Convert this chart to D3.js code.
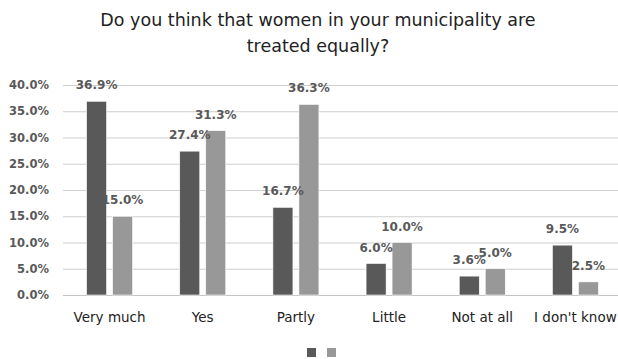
<meta charset="utf-8">
<style>
    body{ margin:0; background:#fff; }
    svg text{ font-family:"DejaVu Sans", Verdana, sans-serif; }
</style>
<script src="https://d3js.org/d3.v7.min.js"></script>
<body>
<div id="chart"></div>
<script>
    // values
    categories = ["Very much", "Yes", "Partly", "Little", "Not at all", "I don't know"]
    seriesA = [36.9, 27.4, 16.7, 6.0, 3.6, 9.5]
    seriesB = [15.0, 31.3, 36.3, 10.0, 5.0, 2.5]
    yTicks = [0, 5, 10, 15, 20, 25, 30, 35, 40]
    colors = ["#595959", "#989898"]

    width = 618
    height = 359

    svg = d3.select("#chart")
            .append("svg")
            .attr("width", width)
            .attr("height", height);

    // title
    svg.append("text")
       .attr("x", 318).attr("y", 26)
       .attr("text-anchor", "middle")
       .attr("font-size", 17.5).attr("fill", "#222")
       .text("Do you think that women in your municipality are");
    svg.append("text")
       .attr("x", 318).attr("y", 52)
       .attr("text-anchor", "middle")
       .attr("font-size", 17.5).attr("fill", "#222")
       .text("treated equally?");

    y = d3.scaleLinear().domain([0, 40]).range([295, 85]);
    x0 = d3.scaleBand().domain(categories).range([63, 622]).paddingInner(0.506).paddingOuter(0.253);
    x1 = d3.scaleBand().domain([0, 1]).range([0, x0.bandwidth()]).paddingInner(0.23);

    // gridlines
    svg.append("g")
       .selectAll("line")
       .data(yTicks)
       .join("line")
       .attr("x1", 63).attr("x2", width)
       .attr("y1", function(d){ return y(d) + 0.5 })
       .attr("y2", function(d){ return y(d) + 0.5 })
       .attr("stroke", function(d){ return d == 0 ? "#c4c4c4" : "#cfcfcf" })
       .attr("stroke-width", 1);

    // y labels
    svg.append("g")
       .selectAll("text")
       .data(yTicks)
       .join("text")
       .attr("x", 49)
       .attr("y", function(d){ return y(d) + 4 })
       .attr("text-anchor", "end")
       .attr("font-size", 11.5).attr("font-weight", "bold").attr("fill", "#595959")
       .text(function(d){ return d.toFixed(1) + "%" });

    // bars
    data = categories.map(function(c, i){ return {cat: c, vals: [seriesA[i], seriesB[i]]} });
    groups = svg.append("g")
       .selectAll("g")
       .data(data)
       .join("g")
       .attr("transform", function(d){ return "translate(" + x0(d.cat) + ",0)" });

    groups.selectAll("rect")
       .data(function(d){ return d.vals.map(function(v, k){ return {k: k, v: v} }) })
       .join("rect")
       .attr("x", function(d){ return x1(d.k) })
       .attr("width", x1.bandwidth())
       .attr("y", function(d){ return y(d.v) })
       .attr("height", function(d){ return y(0) - y(d.v) })
       .attr("fill", function(d){ return colors[d.k] })
       .attr("stroke", "#fff").attr("stroke-width", 0.6);

    groups.selectAll("text.val")
       .data(function(d){ return d.vals.map(function(v, k){ return {k: k, v: v} }) })
       .join("text")
       .attr("class", "val")
       .attr("x", function(d){ return x1(d.k) + x1.bandwidth()/2 })
       .attr("y", function(d){ return y(d.v) - 12 })
       .attr("text-anchor", "middle")
       .attr("font-size", 12).attr("font-weight", "bold").attr("fill", "#595959")
       .text(function(d){ return d.v.toFixed(1) + "%" });

    // category labels
    svg.append("g")
       .selectAll("text")
       .data(categories)
       .join("text")
       .attr("x", function(d){ return x0(d) + x0.bandwidth()/2 })
       .attr("y", 322)
       .attr("text-anchor", "middle")
       .attr("font-size", 13.5).attr("fill", "#222")
       .text(function(d){ return d });

    // legend (no labels in the original)
    svg.append("g")
       .selectAll("rect")
       .data(colors)
       .join("rect")
       .attr("x", function(d, i){ return 307 + i*20 })
       .attr("y", 348)
       .attr("width", 9).attr("height", 9)
       .attr("fill", function(d){ return d });
</script>
</body>
